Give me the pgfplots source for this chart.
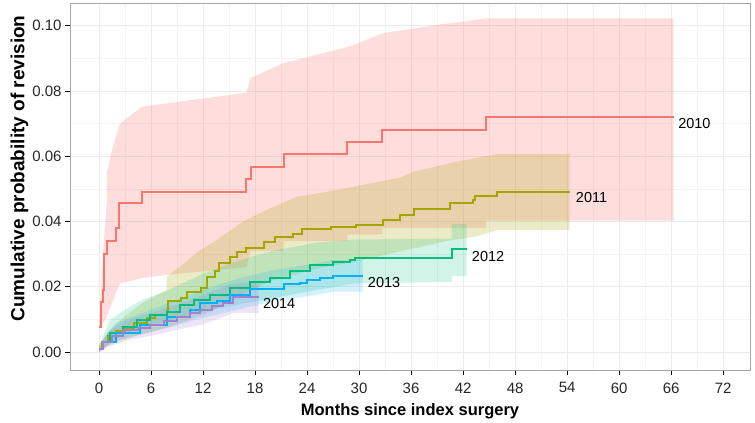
\documentclass[border=0pt]{standalone}
\usepackage{pgfplots}
\pgfplotsset{compat=1.18}
\usepackage{fontspec}
\setmainfont{Liberation Sans}
\definecolor{c10}{HTML}{F8766D}
\definecolor{c11}{HTML}{A3A500}
\definecolor{c12}{HTML}{00BF7D}
\definecolor{c13}{HTML}{00B0F6}
\definecolor{c14}{HTML}{A37FD6}
\definecolor{gridmaj}{HTML}{EBEBEB}
\definecolor{gridmin}{HTML}{F4F4F4}
\begin{document}
\begin{tikzpicture}
\begin{axis}[
  name=ax, set layers,
  scale only axis, width=680pt, height=367pt,
  xmin=-3.35, xmax=75.1, ymin=-0.0055, ymax=0.107,
  xtick={0,6,...,72}, minor xtick={3,9,...,69},
  ytick={0,0.02,0.04,0.06,0.08,0.1}, minor ytick={0.01,0.03,0.05,0.07,0.09},
  grid=both,
  major grid style={color=gridmaj, line width=0.8pt},
  minor grid style={color=gridmin, line width=0.5pt},
  axis line style={color=gray!70, line width=0.7pt},
  tick style={black, line width=0.8pt},
  major tick length=5pt, minor tick length=0pt,
  tick align=outside, xtick pos=bottom, ytick pos=left,
  /pgf/number format/assume math mode=true,
  yticklabel style={/pgf/number format/.cd, fixed, fixed zerofill, precision=2},
  xticklabel style={yshift=-4pt},
  ticklabel style={font=\fontsize{15}{17}\selectfont, text=black!85},
  xlabel={\textbf{Months since index surgery}},
  ylabel={\textbf{Cumulative probability of revision}},
  xlabel style={font=\fontsize{16.5}{19}\selectfont, yshift=-4pt},
  ylabel style={font=\fontsize{19}{21}\selectfont, yshift=-3pt, xshift=18pt},
  clip=false,
]
% ribbons
\addplot[draw=none, fill=c10, fill opacity=0.24] coordinates {
(0,0.0078)(0.2,0.018)(0.5,0.032)(0.9,0.046)(0.9,0.055)(1.5,0.062)(2.4,0.070)(4.93,0.0752)(17.0,0.0795)(17.5,0.084)(21.3,0.0886)(24.3,0.0906)(28.65,0.0935)(29.9,0.0947)(32.8,0.0978)(35.9,0.099)(39,0.1003)(42,0.1013)(44.65,0.1023)(66.3,0.1023)
(66.3,0.0403)(44.65,0.0403)(44.65,0.038)(32.7,0.038)(32.7,0.036)(28.65,0.036)(28.65,0.034)(21.3,0.034)(21.3,0.031)(17.5,0.031)(17.0,0.026)(9,0.024)(4.93,0.0227)(2.4,0.021)(0.7,0.0098)(0.2,0.0080)(0,0.0072)
} --cycle;
\addplot[draw=none, fill=c11, fill opacity=0.22] coordinates {
(0,0.001)(1,0.006)(3,0.011)(5,0.015)(7.8,0.019)(7.8,0.023)(9.7,0.027)(11.5,0.031)(13.6,0.0344)(16.6,0.040)(19.5,0.0438)(22.8,0.0476)(26,0.049)(31.3,0.0517)(34.7,0.0535)(36.3,0.0553)(41.3,0.0584)(43.4,0.0594)(45.9,0.0607)(54.3,0.0607)
(54.3,0.0374)(45.9,0.0374)(43.4,0.0354)(40,0.034)(35,0.031)(30,0.028)(25,0.0255)(20,0.022)(16,0.017)(13,0.0125)(10,0.0095)(7.8,0.0075)(5,0.0055)(3,0.004)(1,0.002)(0,0.0)
} --cycle;
\addplot[draw=none, fill=c12, fill opacity=0.18] coordinates {
(0,0.002)(1.3,0.010)(3,0.013)(5,0.016)(8,0.019)(12,0.024)(16,0.028)(20,0.031)(25,0.0335)(29.5,0.0345)(40.7,0.0348)(40.7,0.0393)(42.4,0.0393)
(42.4,0.0233)(40.7,0.0233)(40.7,0.0215)(29.5,0.021)(25,0.019)(20,0.0165)(16,0.0145)(12,0.0125)(8,0.0095)(5,0.0075)(3,0.0055)(1.3,0.003)(0,0.0)
} --cycle;
\addplot[draw=none, fill=c13, fill opacity=0.18] coordinates {
(0,0.002)(1,0.006)(2,0.009)(5,0.012)(8,0.015)(12,0.019)(16,0.0225)(20,0.025)(25,0.0272)(27,0.0282)(30.4,0.0282)
(30.4,0.0185)(27,0.0185)(25,0.0175)(20,0.0155)(16,0.013)(12,0.0105)(8,0.0075)(5,0.0055)(2,0.0035)(1,0.002)(0,0.0)
} --cycle;
\addplot[draw=none, fill=c14, fill opacity=0.2] coordinates {
(0,0.002)(1,0.006)(3,0.0095)(6,0.012)(9,0.0145)(12,0.0175)(15.5,0.021)(18.4,0.0215)
(18.4,0.0119)(15.5,0.0119)(12,0.0085)(9,0.0068)(6,0.005)(3,0.0035)(1,0.0015)(0,0.0)
} --cycle;
% step lines
\addplot[const plot, c10, line width=2pt] coordinates {
(0,0.0078)(0.2,0.0154)(0.42,0.019)(0.6,0.030)(0.89,0.034)(1.96,0.038)(2.35,0.0456)(4.93,0.049)(17.0,0.053)(17.5,0.0568)(21.3,0.0606)(28.65,0.0644)(32.7,0.0682)(44.65,0.072)(66.3,0.072)};
\addplot[const plot, c11, line width=2pt] coordinates {
(0,0.001)(0.3,0.003)(1,0.005)(2,0.0065)(3,0.0075)(4,0.009)(5.5,0.0105)(6.5,0.0115)(7.8,0.0125)(7.9,0.0155)(9.5,0.0165)(10.1,0.0185)(11.8,0.0195)(12.4,0.023)(13.4,0.025)(13.8,0.0272)(15.1,0.0292)(15.9,0.0308)(17,0.0318)(19,0.0338)(20.3,0.0352)(22.4,0.0362)(23.4,0.0376)(26.8,0.0382)(29.7,0.039)(32.8,0.0405)(34.7,0.042)(36.3,0.044)(40.5,0.0456)(43.1,0.0466)(43.4,0.0478)(45.9,0.0492)(54.3,0.0492)};
\addplot[const plot, c12, line width=2pt] coordinates {
(0,0.001)(0.5,0.003)(1.3,0.0057)(2.8,0.0078)(4.35,0.0098)(5.9,0.0113)(7.8,0.0124)(9.3,0.0144)(10.9,0.016)(12.8,0.0175)(15.1,0.0195)(17.4,0.0216)(19.7,0.0228)(22,0.0248)(24.3,0.0267)(27,0.0277)(29,0.0282)(29.5,0.0287)(40.7,0.0316)(42.4,0.0316)};
\addplot[const plot, c13, line width=2pt] coordinates {
(0,0.001)(0.5,0.003)(2,0.0057)(4.7,0.0083)(7.8,0.0108)(10.5,0.0129)(11.7,0.015)(13.6,0.0158)(15.1,0.0175)(17.4,0.0192)(21.3,0.0208)(23.2,0.0213)(24,0.0221)(25.5,0.0226)(27,0.0233)(30.4,0.0233)};
\addplot[const plot, c14, line width=2pt] coordinates {
(0,0.001)(0.5,0.003)(1.5,0.005)(2.8,0.0067)(4.5,0.0075)(5.9,0.0083)(7.5,0.0095)(9,0.0108)(10.5,0.012)(11.7,0.0129)(13,0.014)(14.3,0.0149)(15.5,0.017)(18.4,0.017)};
% labels
\node[anchor=west, font=\fontsize{14.5}{16}\selectfont, inner sep=0pt] at (axis cs:66.8,0.0702) {2010};
\node[anchor=west, font=\fontsize{14.5}{16}\selectfont, inner sep=0pt] at (axis cs:55.0,0.0473) {2011};
\node[anchor=west, font=\fontsize{14.5}{16}\selectfont, inner sep=0pt] at (axis cs:43.0,0.0294) {2012};
\node[anchor=west, font=\fontsize{14.5}{16}\selectfont, inner sep=0pt] at (axis cs:31.0,0.0214) {2013};
\node[anchor=west, font=\fontsize{14.5}{16}\selectfont, inner sep=0pt] at (axis cs:18.9,0.0149) {2014};
\end{axis}
\path (ax.south west) ++(-70pt,-50pt) rectangle ++(755pt,420pt);
\end{tikzpicture}
\end{document}
